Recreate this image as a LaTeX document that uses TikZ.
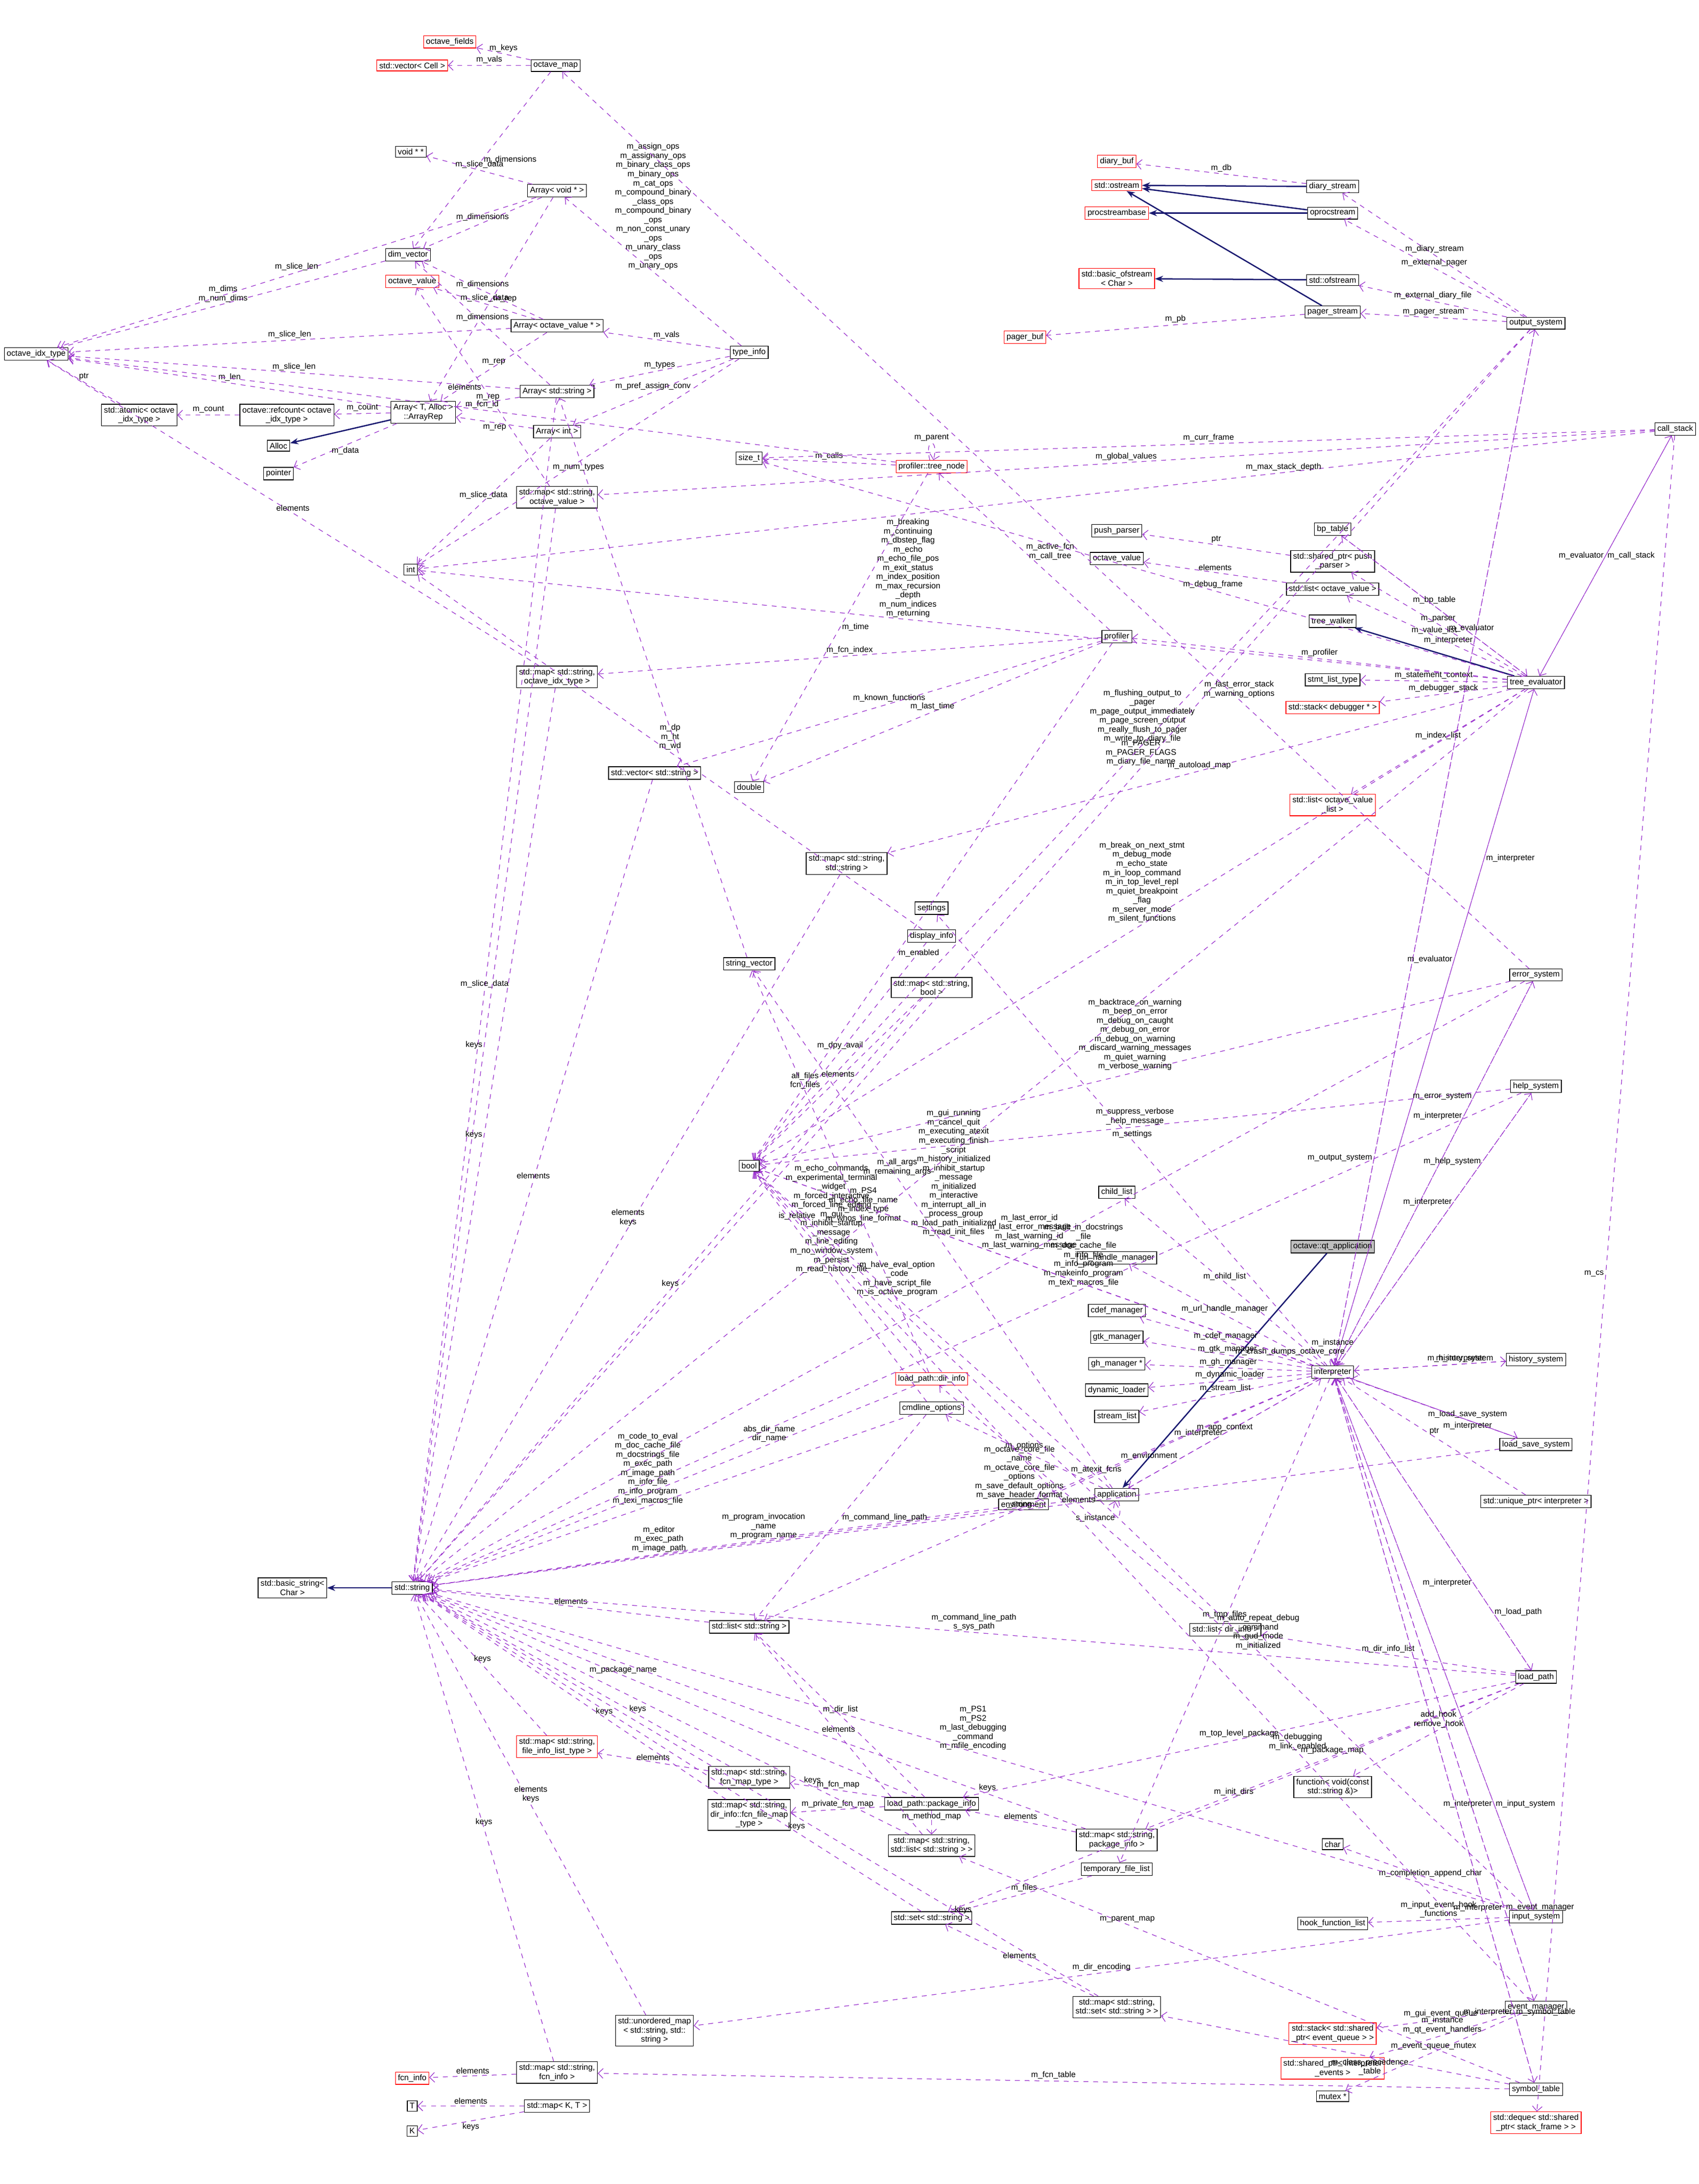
\documentclass[tikz,border=0pt]{standalone}
\usepackage{fontspec}
\setmainfont{Liberation Sans}
\usetikzlibrary{arrows.meta, positioning}
\definecolor{usecol}{RGB}{154,50,205}
\definecolor{inhcol}{RGB}{25,25,112}
\tikzset{
  cls/.style = {draw=black, rectangle, fill=white, inner sep=1.5pt, align=center, font=\fontsize{5}{5.6}\selectfont},
  ucls/.style = {cls, draw=red},
  rootcls/.style = {cls, fill=black!25},
  use/.style = {draw=usecol, dashed, -{Straight Barb[length=3pt]}},
  inh/.style = {draw=inhcol, thick, -{Stealth[length=5pt]}},
  lbl/.style = {font=\fontsize{5}{5.6}\selectfont, align=center, inner sep=1pt, text=black}
}
\begin{document}
\begin{tikzpicture}[x=0.03cm, y=-0.03cm]
        \useasboundingbox (0,0) rectangle (1220,1568);
        % array and container classes
        \node[ucls] (Nfields) at (323,30) {octave\_fields};
        \node[ucls] (Nvcell) at (296,47) {std::vector< Cell >};
        \node[cls] (Nmap) at (399,47) {octave\_map};
        \node[cls] (Nvoidpp) at (295,109) {void * *};
        \node[cls] (Navoid) at (400,137) {Array< void * >};
        \node[cls] (Ndim) at (293,183) {dim\_vector};
        \node[ucls] (Noval) at (296,202) {octave\_value};
        \node[cls] (Naoval) at (400,234) {Array< octave\_value * >};
        \node[cls] (Nidx) at (26,254) {octave\_idx\_type};
        \node[cls] (Ntype) at (538,253) {type\_info};
        \node[cls] (Nastr) at (400,281) {Array< std::string >};
        \node[cls] (Natomic) at (100,298) {std::atomic< octave\\\_idx\_type >};
        \node[cls] (Nrefc) at (206,298) {octave::refcount< octave\\\_idx\_type >};
        \node[cls] (Nrep) at (304,296) {Array< T, Alloc >\\::ArrayRep};
        \node[cls] (Nalloc) at (200,320) {Alloc};
        \node[cls] (Naint) at (400,310) {Array< int >};
        \node[cls] (Npointer) at (200,340) {pointer};
        \node[cls] (Nsize) at (538,329) {size\_t};
        \node[ucls] (Ntnode) at (669,335) {profiler::tree\_node};
        \node[cls] (Nmapov) at (400,357) {std::map< std::string,\\octave\_value >};
        \node[cls] (Nint) at (295,409) {int};
        \node[cls] (Nmapidx) at (400,486) {std::map< std::string,\\octave\_idx\_type >};
        \node[cls] (Nvstr) at (470,555) {std::vector< std::string >};
        \node[cls] (Ndouble) at (538,565) {double};
        \node[cls] (Nmapss) at (608,620) {std::map< std::string,\\std::string >};
        \node[cls] (Nsettings) at (669,652) {settings};
        \node[cls] (Ndisp) at (669,672) {display\_info};
        \node[cls] (Nsvec) at (538,692) {string\_vector};
        \node[cls] (Nmapbool) at (669,709) {std::map< std::string,\\bool >};
        \node[cls] (Nbool) at (538,837) {bool};
        \node[cls] (Nprof) at (802,457) {profiler};
        % streams
        \node[ucls] (Ndbuf) at (802,116) {diary\_buf};
        \node[ucls] (Nostream) at (802,133) {std::ostream};
        \node[ucls] (Nprocsb) at (802,153) {procstreambase};
        \node[ucls] (Nbofs) at (802,200) {std::basic\_ofstream\\< Char >};
        \node[ucls] (Npbuf) at (736,242) {pager\_buf};
        \node[cls] (Ndstream) at (957,134) {diary\_stream};
        \node[cls] (Noproc) at (957,153) {oprocstream};
        \node[cls] (Nofs) at (957,201) {std::ofstream};
        \node[cls] (Npstream) at (957,224) {pager\_stream};
        \node[cls] (Nout) at (1103,232) {output\_system};
        \node[cls] (Ncstack) at (1203,308) {call\_stack};
        % evaluator
        \node[cls] (Npush) at (802,381) {push\_parser};
        \node[cls] (Noval2) at (802,401) {octave\_value};
        \node[cls] (Nbp) at (957,380) {bp\_table};
        \node[cls] (Nsppush) at (957,403) {std::shared\_ptr< push\\\_parser >};
        \node[cls] (Nlistov) at (957,423) {std::list< octave\_value >};
        \node[cls] (Nwalker) at (957,446) {tree\_walker};
        \node[cls] (Nstmt) at (957,488) {stmt\_list\_type};
        \node[ucls] (Ndbgst) at (957,508) {std::stack< debugger * >};
        \node[cls] (Neval) at (1103,490) {tree\_evaluator};
        \node[ucls] (Nlistovl) at (957,578) {std::list< octave\_value\\\_list >};
        \node[cls] (Nerr) at (1103,700) {error\_system};
        \node[cls] (Nhelp) at (1103,780) {help\_system};
        % interpreter
        \node[cls] (Nchild) at (802,856) {child\_list};
        \node[rootcls] (Nqt) at (957,895) {octave::qt\_application};
        \node[cls] (Nurl) at (802,903) {url\_handle\_manager};
        \node[cls] (Ncdef) at (802,941) {cdef\_manager};
        \node[cls] (Ngtk) at (802,960) {gtk\_manager};
        \node[cls] (Ngh) at (802,979) {gh\_manager *};
        \node[cls] (Ndyn) at (802,998) {dynamic\_loader};
        \node[cls] (Nstreams) at (802,1017) {stream\_list};
        \node[cls] (Ninterp) at (957,985) {interpreter};
        \node[cls] (Nhist) at (1103,976) {history\_system};
        \node[cls] (Nlss) at (1103,1037) {load\_save\_system};
        \node[cls] (Napp) at (802,1073) {application};
        \node[cls] (Nenv) at (735,1080) {environment};
        \node[cls] (Nuptr) at (1103,1078) {std::unique\_ptr< interpreter >};
        \node[cls] (Ncmd) at (669,1011) {cmdline\_options};
        \node[ucls] (Ndinfo) at (669,990) {load\_path::dir\_info};
        % strings and load path
        \node[cls] (Nbstr) at (210,1140) {std::basic\_string<\\Char >};
        \node[cls] (Nstr) at (296,1140) {std::string};
        \node[cls] (Nlstr) at (538,1168) {std::list< std::string >};
        \node[cls] (Nldinfo) at (880,1170) {std::list< dir\_info >};
        \node[cls] (Nlpath) at (1103,1204) {load\_path};
        \node[ucls] (Nmapfil) at (400,1254) {std::map< std::string,\\file\_info\_list\_type >};
        \node[cls] (Nmapfcn) at (538,1276) {std::map< std::string,\\fcn\_map\_type >};
        \node[cls] (Npkg) at (669,1295) {load\_path::package\_info};
        \node[cls] (Nmapffm) at (538,1303) {std::map< std::string,\\dir\_info::fcn\_file\_map\\\_type >};
        \node[cls] (Nmapls) at (669,1325) {std::map< std::string,\\std::list< std::string > >};
        \node[cls] (Nmappkg) at (802,1321) {std::map< std::string,\\package\_info >};
        \node[cls] (Nfunc) at (957,1283) {function< void(const\\std::string \&)>};
        \node[cls] (Nchar) at (957,1324) {char};
        \node[cls] (Ntmp) at (802,1342) {temporary\_file\_list};
        \node[cls] (Nsetstr) at (669,1377) {std::set< std::string >};
        \node[cls] (Nhook) at (957,1381) {hook\_function\_list};
        \node[cls] (Ninput) at (1103,1376) {input\_system};
        \node[cls] (Nmapset) at (802,1441) {std::map< std::string,\\std::set< std::string > >};
        \node[cls] (Numap) at (470,1458) {std::unordered\_map\\< std::string, std::\\string >};
        \node[cls] (Nevent) at (1103,1441) {event\_manager};
        \node[ucls] (Nqueue) at (957,1460) {std::stack< std::shared\\\_ptr< event\_queue > >};
        \node[ucls] (Nspev) at (957,1485) {std::shared\_ptr< interpreter\\\_events >};
        \node[cls] (Nmutex) at (957,1505) {mutex *};
        \node[cls] (Nsym) at (1103,1500) {symbol\_table};
        \node[cls] (Nmapfi) at (400,1488) {std::map< std::string,\\fcn\_info >};
        \node[ucls] (Nfi) at (296,1492) {fcn\_info};
        \node[cls] (NT) at (296,1512) {T};
        \node[cls] (Nmapkt) at (400,1512) {std::map< K, T >};
        \node[cls] (NK) at (296,1530) {K};
        \node[ucls] (Ndeque) at (1103,1524) {std::deque< std::shared\\\_ptr< stack\_frame > >};

        % inheritance
        \draw[inh] (Nrep) -- (Nalloc);
        \draw[inh] (Ndstream) -- (Nostream);
        \draw[inh] (Noproc) -- (Nostream);
        \draw[inh] (Noproc) -- (Nprocsb);
        \draw[inh] (Nofs) -- (Nbofs);
        \draw[inh] (Npstream) -- (Nostream);
        \draw[inh] (Neval) -- (Nwalker);
        \draw[inh] (Nqt) -- (Napp);
        \draw[inh] (Nstr) -- (Nbstr);

        % members
        \draw[use] (Nsvec) -- (Nastr);
        \draw[use] (Nmap) -- node[lbl, above] {m\_keys} (Nfields);
        \draw[use] (Nmap) -- node[lbl, above] {m\_vals} (Nvcell);
        \draw[use] (Nmap) -- node[lbl, right] {m\_dimensions} (Ndim);
        \draw[use] (Navoid) -- node[lbl, above] {m\_slice\_data} (Nvoidpp);
        \draw[use] (Navoid) -- node[lbl, above] {m\_dimensions} (Ndim);
        \draw[use] (Navoid) -- node[lbl, above] {m\_slice\_len} (Nidx);
        \draw[use] (Navoid) -- node[lbl, right] {m\_rep} (Nrep);
        \draw[use] (Naoval) -- node[lbl, above] {m\_slice\_data} (Noval);
        \draw[use] (Naoval) -- node[lbl, above] {m\_dimensions} (Ndim);
        \draw[use] (Naoval) -- node[lbl, above] {m\_slice\_len} (Nidx);
        \draw[use] (Naoval) -- node[lbl, above] {m\_rep} (Nrep);
        \draw[use] (Nastr) -- node[lbl, above] {m\_slice\_data} (Nstr);
        \draw[use] (Nastr) -- node[lbl, above] {m\_slice\_len} (Nidx);
        \draw[use] (Nastr) -- node[lbl, above] {m\_rep} (Nrep);
        \draw[use] (Nastr) -- node[lbl, above] {m\_dimensions} (Ndim);
        \draw[use] (Naint) -- node[lbl, above] {m\_slice\_data} (Nint);
        \draw[use] (Naint) -- node[lbl, below] {m\_rep} (Nrep);
        \draw[use] (Ndim) -- node[lbl, above] {m\_dims\\m\_num\_dims} (Nidx);
        \draw[use] (Nrep) -- node[lbl, above] {m\_len} (Nidx);
        \draw[use] (Nrep) -- node[lbl, above] {m\_count} (Nrefc);
        \draw[use] (Nrep) -- node[lbl, below] {m\_data} (Npointer);
        \draw[use] (Nrefc) -- node[lbl, above] {m\_count} (Natomic);
        \draw[use] (Natomic) -- node[lbl, above] {ptr} (Nidx);
        \draw[use] (Ntype) -- node[lbl, above] {m\_assign\_ops\\m\_assignany\_ops\\m\_binary\_class\_ops\\m\_binary\_ops\\m\_cat\_ops\\m\_compound\_binary\\\_class\_ops\\m\_compound\_binary\\\_ops\\m\_non\_const\_unary\\\_ops\\m\_unary\_class\\\_ops\\m\_unary\_ops} (Navoid);
        \draw[use] (Ntype) -- node[lbl, above] {m\_vals} (Naoval);
        \draw[use] (Ntype) -- node[lbl, above] {m\_types} (Nastr);
        \draw[use] (Ntype) -- node[lbl, above] {m\_pref\_assign\_conv} (Naint);
        \draw[use] (Ntype) -- node[lbl, below] {m\_num\_types} (Nint);
        \draw[use] (Ntnode) -- node[lbl, above] {m\_calls} (Nsize);
        \draw[use] (Ntnode) -- node[lbl, right] {m\_time} (Ndouble);
        \draw[use] (Ntnode) to[loop above] node[lbl, above] {m\_parent} (Ntnode);
        \draw[use] (Ntnode) -- node[lbl, above] {m\_fcn\_id} (Nidx);
        \draw[use] (Nmapov) -- node[lbl, left] {keys} (Nstr);
        \draw[use] (Nmapov) -- node[lbl, left] {elements} (Noval);
        \draw[use] (Nmapidx) -- node[lbl, left] {keys} (Nstr);
        \draw[use] (Nmapidx) -- node[lbl, above] {elements} (Nidx);
        \draw[use] (Nvstr) -- node[lbl, above] {elements} (Nstr);
        \draw[use] (Nmapss) -- node[lbl, above] {elements\\keys} (Nstr);
        \draw[use] (Ndisp) -- node[lbl, above] {m\_dp\\m\_ht\\m\_wd} (Nint);
        \draw[use] (Ndisp) -- node[lbl, above] {m\_dpy\_avail} (Nbool);
        \draw[use] (Nmapbool) -- node[lbl, above] {elements} (Nbool);
        \draw[use] (Nmapbool) -- node[lbl, above] {keys} (Nstr);
        \draw[use] (Nprof) -- node[lbl, right] {m\_active\_fcn\\m\_call\_tree} (Ntnode);
        \draw[use] (Nprof) -- node[lbl, above] {m\_fcn\_index} (Nmapidx);
        \draw[use] (Nprof) -- node[lbl, above] {m\_known\_functions} (Nvstr);
        \draw[use] (Nprof) -- node[lbl, above] {m\_last\_time} (Ndouble);
        \draw[use] (Nprof) -- node[lbl, right, pos=0.6] {m\_enabled} (Nbool);
        \draw[use] (Ndstream) -- node[lbl, above] {m\_db} (Ndbuf);
        \draw[use] (Npstream) -- node[lbl, above] {m\_pb} (Npbuf);
        \draw[use] (Nout) -- node[lbl, above] {m\_diary\_stream} (Ndstream);
        \draw[use] (Nout) -- node[lbl, above] {m\_external\_pager} (Noproc);
        \draw[use] (Nout) -- node[lbl, above] {m\_external\_diary\_file} (Nofs);
        \draw[use] (Nout) -- node[lbl, above] {m\_pager\_stream} (Npstream);
        \draw[use] (Nout) -- node[lbl, above, pos=0.35] {m\_PAGER\\m\_PAGER\_FLAGS\\m\_diary\_file\_name} (Nstr);
        \draw[use] (Nout) -- node[lbl, above] {m\_flushing\_output\_to\\\_pager\\m\_page\_output\_immediately\\m\_page\_screen\_output\\m\_really\_flush\_to\_pager\\m\_write\_to\_diary\_file} (Nbool);
        \draw[use] (Nout) -- node[lbl, left, pos=0.3] {m\_interpreter} (Ninterp);
        \draw[use] (Ncstack) -- node[lbl, above] {m\_curr\_frame} (Nsize);
        \draw[use] (Ncstack) -- node[lbl, above, pos=0.3] {m\_max\_stack\_depth} (Nint);
        \draw[use] (Ncstack) -- node[lbl, above] {m\_global\_values} (Nmapov);
        \draw[use] (Ncstack) -- node[lbl, left] {m\_evaluator} (Neval);
        \draw[use] (Ncstack) -- node[lbl, left] {m\_cs} (Ndeque);
        \draw[use] (Nerr) -- node[lbl, above, pos=0.3] {m\_last\_error\_stack\\m\_warning\_options} (Nmap);
        \draw[use] (Neval) -- node[lbl, above] {m\_bp\_table} (Nbp);
        \draw[use] (Neval) -- node[lbl, above] {m\_parser} (Nsppush);
        \draw[use] (Neval) -- node[lbl, above] {m\_value\_list} (Nlistov);
        \draw[use] (Neval) -- node[lbl, above] {m\_statement\_context} (Nstmt);
        \draw[use] (Neval) -- node[lbl, above] {m\_debugger\_stack} (Ndbgst);
        \draw[use] (Neval) -- node[lbl, above] {m\_index\_list} (Nlistovl);
        \draw[use] (Neval) -- node[lbl, right] {m\_call\_stack} (Ncstack);
        \draw[use] (Neval) -- node[lbl, above] {m\_profiler} (Nprof);
        \draw[use] (Neval) -- node[lbl, right, pos=0.25] {m\_interpreter} (Ninterp);
        \draw[use] (Neval) -- node[lbl, above, pos=0.4] {m\_debug\_frame} (Nsize);
        \draw[use] (Neval) -- node[lbl, above, pos=0.55] {m\_breaking\\m\_continuing\\m\_dbstep\_flag\\m\_echo\\m\_echo\_file\_pos\\m\_exit\_status\\m\_index\_position\\m\_max\_recursion\\\_depth\\m\_num\_indices\\m\_returning} (Nint);
        \draw[use] (Neval) -- node[lbl, above] {m\_autoload\_map} (Nmapss);
        \draw[use] (Neval) -- node[lbl, above, pos=0.6] {m\_PS4\\m\_echo\_file\_name\\m\_index\_type\\m\_whos\_line\_format} (Nstr);
        \draw[use] (Neval) -- node[lbl, above] {m\_break\_on\_next\_stmt\\m\_debug\_mode\\m\_echo\_state\\m\_in\_loop\_command\\m\_in\_top\_level\_repl\\m\_quiet\_breakpoint\\\_flag\\m\_server\_mode\\m\_silent\_functions} (Nbool);
        \draw[use] (Nbp) -- node[lbl, above, pos=0.7] {m\_evaluator} (Neval);
        \draw[use] (Nsppush) -- node[lbl, above] {ptr} (Npush);
        \draw[use] (Nlistov) -- node[lbl, above] {elements} (Noval2);
        \draw[use] (Nerr) -- node[lbl, left, pos=0.35] {m\_interpreter} (Ninterp);
        \draw[use] (Nerr) -- node[lbl, above] {m\_backtrace\_on\_warning\\m\_beep\_on\_error\\m\_debug\_on\_caught\\m\_debug\_on\_error\\m\_debug\_on\_warning\\m\_discard\_warning\_messages\\m\_quiet\_warning\\m\_verbose\_warning} (Nbool);
        \draw[use] (Nerr) -- node[lbl, above, pos=0.45] {m\_last\_error\_id\\m\_last\_error\_message\\m\_last\_warning\_id\\m\_last\_warning\_message} (Nstr);
        \draw[use] (Nhelp) -- node[lbl, left, pos=0.4] {m\_interpreter} (Ninterp);
        \draw[use] (Nhelp) -- node[lbl, above] {m\_suppress\_verbose\\\_help\_message} (Nbool);
        \draw[use] (Nhelp) -- node[lbl, above, pos=0.4] {m\_built\_in\_docstrings\\\_file\\m\_doc\_cache\_file\\m\_info\_file\\m\_info\_program\\m\_makeinfo\_program\\m\_texi\_macros\_file} (Nstr);
        \draw[use] (Napp) to[loop below] node[lbl, left] {s\_instance} (Napp);
        \draw[use] (Napp) -- node[lbl, above] {m\_options} (Ncmd);
        \draw[use] (Napp) -- node[lbl, left] {m\_interpreter} (Ninterp);
        \draw[use] (Napp) -- node[lbl, above, pos=0.6] {m\_all\_args\\m\_remaining\_args} (Nsvec);
        \draw[use] (Napp) -- node[lbl, above] {m\_program\_invocation\\\_name\\m\_program\_name} (Nstr);
        \draw[use] (Napp) -- node[lbl, above, pos=0.6] {m\_have\_eval\_option\\\_code\\m\_have\_script\_file\\m\_is\_octave\_program} (Nbool);
        \draw[use] (Ninterp) -- node[lbl, above] {m\_child\_list} (Nchild);
        \draw[use] (Ninterp) -- node[lbl, above] {m\_url\_handle\_manager} (Nurl);
        \draw[use] (Ninterp) -- node[lbl, above] {m\_cdef\_manager} (Ncdef);
        \draw[use] (Ninterp) -- node[lbl, above] {m\_gtk\_manager} (Ngtk);
        \draw[use] (Ninterp) -- node[lbl, above] {m\_gh\_manager} (Ngh);
        \draw[use] (Ninterp) -- node[lbl, above] {m\_dynamic\_loader} (Ndyn);
        \draw[use] (Ninterp) -- node[lbl, above] {m\_stream\_list} (Nstreams);
        \draw[use] (Ninterp) -- node[lbl, above] {m\_app\_context} (Napp);
        \draw[use] (Ninterp) -- node[lbl, below, pos=0.6] {m\_environment} (Nenv);
        \draw[use] (Ninterp) -- node[lbl, above, pos=0.7] {m\_history\_system} (Nhist);
        \draw[use] (Ninterp) -- node[lbl, above, pos=0.7] {m\_load\_save\_system} (Nlss);
        \draw[use] (Ninterp) -- node[lbl, left, pos=0.2] {m\_output\_system} (Nout);
        \draw[use] (Ninterp) -- node[lbl, left, pos=0.6] {m\_evaluator} (Neval);
        \draw[use] (Ninterp) -- node[lbl, left, pos=0.7] {m\_error\_system} (Nerr);
        \draw[use] (Ninterp) -- node[lbl, left, pos=0.75] {m\_help\_system} (Nhelp);
        \draw[use] (Ninterp) -- node[lbl, right, pos=0.8] {m\_load\_path} (Nlpath);
        \draw[use] (Ninterp) -- node[lbl, right, pos=0.8] {m\_input\_system} (Ninput);
        \draw[use] (Ninterp) -- node[lbl, right, pos=0.85] {m\_event\_manager} (Nevent);
        \draw[use] (Ninterp) -- node[lbl, right, pos=0.9] {m\_symbol\_table} (Nsym);
        \draw[use] (Ninterp) -- node[lbl, above] {m\_settings} (Nsettings);
        \draw[use] (Ninterp) -- node[lbl, above] {m\_tmp\_files} (Ntmp);
        \draw[use] (Ninterp) -- node[lbl, above, pos=0.4] {m\_atexit\_fcns} (Nlstr);
        \draw[use] (Ninterp) to[loop above] node[lbl, above] {m\_instance} (Ninterp);
        \draw[use] (Ninterp) -- node[lbl, above, pos=0.65] {m\_gui\_running\\m\_cancel\_quit\\m\_executing\_atexit\\m\_executing\_finish\\\_script\\m\_history\_initialized\\m\_inhibit\_startup\\\_message\\m\_initialized\\m\_interactive\\m\_interrupt\_all\_in\\\_process\_group\\m\_load\_path\_initialized\\m\_read\_init\_files} (Nbool);
        \draw[use] (Nhist) -- node[lbl, above, pos=0.3] {m\_interpreter} (Ninterp);
        \draw[use] (Nlss) -- node[lbl, below, pos=0.3] {m\_interpreter} (Ninterp);
        \draw[use] (Nlss) -- node[lbl, above, pos=0.3] {m\_crash\_dumps\_octave\_core} (Nbool);
        \draw[use] (Nlss) -- node[lbl, above, pos=0.45] {m\_octave\_core\_file\\\_name\\m\_octave\_core\_file\\\_options\\m\_save\_default\_options\\m\_save\_header\_format\\\_string} (Nstr);
        \draw[use] (Nuptr) -- node[lbl, above] {ptr} (Ninterp);
        \draw[use] (Nenv) -- node[lbl, above, pos=0.6] {m\_editor\\m\_exec\_path\\m\_image\_path} (Nstr);
        \draw[use] (Ncmd) -- node[lbl, above, pos=0.55] {m\_code\_to\_eval\\m\_doc\_cache\_file\\m\_docstrings\_file\\m\_exec\_path\\m\_image\_path\\m\_info\_file\\m\_info\_program\\m\_texi\_macros\_file} (Nstr);
        \draw[use] (Ncmd) -- node[lbl, above, pos=0.55] {m\_echo\_commands\\m\_experimental\_terminal\\\_widget\\m\_forced\_interactive\\m\_forced\_line\_editing\\m\_gui\\m\_inhibit\_startup\\\_message\\m\_line\_editing\\m\_no\_window\_system\\m\_persist\\m\_read\_history\_file} (Nbool);
        \draw[use] (Ncmd) -- node[lbl, right] {m\_command\_line\_path} (Nlstr);
        \draw[use] (Ndinfo) -- node[lbl, above, pos=0.3] {abs\_dir\_name\\dir\_name} (Nstr);
        \draw[use] (Ndinfo) -- node[lbl, above, pos=0.75] {is\_relative} (Nbool);
        \draw[use] (Ndinfo) -- node[lbl, above, pos=0.7] {all\_files\\fcn\_files} (Nsvec);
        \draw[use] (Nlstr) -- node[lbl, above] {elements} (Nstr);
        \draw[use] (Nldinfo) -- node[lbl, above] {elements} (Ndinfo);
        \draw[use] (Nlpath) -- node[lbl, above] {m\_dir\_info\_list} (Nldinfo);
        \draw[use] (Nlpath) -- node[lbl, left, pos=0.3] {m\_interpreter} (Ninterp);
        \draw[use] (Nlpath) -- node[lbl, above] {m\_package\_map} (Nmappkg);
        \draw[use] (Nlpath) -- node[lbl, above] {m\_top\_level\_package} (Npkg);
        \draw[use] (Nlpath) -- node[lbl, above] {m\_init\_dirs} (Nsetstr);
        \draw[use] (Nlpath) -- node[lbl, above] {add\_hook\\remove\_hook} (Nfunc);
        \draw[use] (Nlpath) -- node[lbl, above] {m\_command\_line\_path\\s\_sys\_path} (Nstr);
        \draw[use] (Nmapfil) -- node[lbl, above] {keys} (Nstr);
        \draw[use] (Nmapfcn) -- node[lbl, above, pos=0.3] {keys} (Nstr);
        \draw[use] (Nmapfcn) -- node[lbl, above] {elements} (Nmapfil);
        \draw[use] (Npkg) -- node[lbl, above] {m\_dir\_list} (Nlstr);
        \draw[use] (Npkg) -- node[lbl, above] {m\_fcn\_map} (Nmapfcn);
        \draw[use] (Npkg) -- node[lbl, above] {m\_private\_fcn\_map} (Nmapffm);
        \draw[use] (Npkg) -- node[lbl, above] {m\_method\_map} (Nmapls);
        \draw[use] (Npkg) -- node[lbl, above, pos=0.6] {m\_package\_name} (Nstr);
        \draw[use] (Nmapffm) -- node[lbl, above, pos=0.4] {keys} (Nstr);
        \draw[use] (Nmapls) -- node[lbl, above] {elements} (Nlstr);
        \draw[use] (Nmapls) -- node[lbl, above, pos=0.2] {keys} (Nstr);
        \draw[use] (Nmappkg) -- node[lbl, above] {elements} (Npkg);
        \draw[use] (Nmappkg) -- node[lbl, above, pos=0.15] {keys} (Nstr);
        \draw[use] (Ntmp) -- node[lbl, above] {m\_files} (Nsetstr);
        \draw[use] (Nsetstr) -- node[lbl, above, pos=0.25] {keys} (Nstr);
        \draw[use] (Ninput) -- node[lbl, left, pos=0.2] {m\_interpreter} (Ninterp);
        \draw[use] (Ninput) -- node[lbl, above] {m\_completion\_append\_char} (Nchar);
        \draw[use] (Ninput) -- node[lbl, above] {m\_input\_event\_hook\\\_functions} (Nhook);
        \draw[use] (Ninput) -- node[lbl, above] {m\_PS1\\m\_PS2\\m\_last\_debugging\\\_command\\m\_mfile\_encoding} (Nstr);
        \draw[use] (Ninput) -- node[lbl, above, pos=0.35] {m\_auto\_repeat\_debug\\\_command\\m\_gud\_mode\\m\_initialized} (Nbool);
        \draw[use] (Ninput) -- node[lbl, above] {m\_dir\_encoding} (Numap);
        \draw[use] (Nmapset) -- node[lbl, above] {elements} (Nsetstr);
        \draw[use] (Nmapset) -- node[lbl, above, pos=0.2] {keys} (Nstr);
        \draw[use] (Numap) -- node[lbl, above] {elements\\keys} (Nstr);
        \draw[use] (Nevent) -- node[lbl, above] {m\_gui\_event\_queue} (Nqueue);
        \draw[use] (Nevent) -- node[lbl, above] {m\_instance\\m\_qt\_event\_handlers} (Nspev);
        \draw[use] (Nevent) -- node[lbl, above] {m\_event\_queue\_mutex} (Nmutex);
        \draw[use] (Nevent) -- node[lbl, left, pos=0.15] {m\_interpreter} (Ninterp);
        \draw[use] (Nevent) -- node[lbl, above, pos=0.3] {m\_debugging\\m\_link\_enabled} (Nbool);
        \draw[use] (Nsym) -- node[lbl, left, pos=0.1] {m\_interpreter} (Ninterp);
        \draw[use] (Nsym) -- node[lbl, above] {m\_fcn\_table} (Nmapfi);
        \draw[use] (Nsym) -- node[lbl, below, pos=0.4] {m\_class\_precedence\\\_table} (Nmapset);
        \draw[use] (Nsym) -- node[lbl, above, pos=0.7] {m\_parent\_map} (Nmapls);
        \draw[use] (Nmapfi) -- node[lbl, above] {elements} (Nfi);
        \draw[use] (Nmapfi) -- node[lbl, above] {keys} (Nstr);
        \draw[use] (Nmapkt) -- node[lbl, above] {elements} (NT);
        \draw[use] (Nmapkt) -- node[lbl, below] {keys} (NK);
\end{tikzpicture}
\end{document}
